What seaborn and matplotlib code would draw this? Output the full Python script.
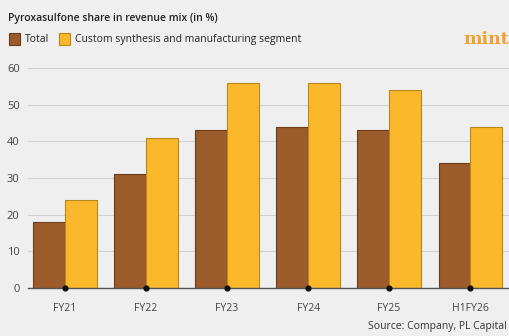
import matplotlib
matplotlib.use("Agg")
import matplotlib.pyplot as plt
import seaborn as sns
import pandas as pd

categories = ["FY21", "FY22", "FY23", "FY24", "FY25", "H1FY26"]
total = [18, 31, 43, 44, 43, 34]
custom = [24, 41, 56, 56, 54, 44]
series_names = ["Total", "Custom synthesis and manufacturing segment"]
yticks = [0, 10, 20, 30, 40, 50, 60]

df = pd.DataFrame({
    "year": categories * 2,
    "value": total + custom,
    "series": [series_names[0]] * len(categories) + [series_names[1]] * len(categories),
})

sns.set_theme(style="white")
plt.rcParams["font.family"] = ["Open Sans", "DejaVu Sans"]

bg = "#efefef"
brown = "#9b5b2b"
yellow = "#fbb82b"

fig = plt.figure(figsize=(5.09, 3.36), dpi=100, facecolor=bg)
ax = fig.add_axes([28 / 509, 1 - 288 / 336, 1 - 28 / 509, (288 - 68) / 336])
ax.set_facecolor(bg)

sns.barplot(data=df, x="year", y="value", hue="series", order=categories,
            hue_order=series_names, palette=[brown, yellow], width=0.78,
            saturation=1, ax=ax, legend=True)
for i, cont in enumerate(ax.containers):
    ec = "#6b3d1c" if i == 0 else "#b5871c"
    for p in cont.patches:
        p.set_edgecolor(ec)
        p.set_linewidth(0.8)
        p.set_zorder(3)

ax.set_xlim(-0.457, 5.48)
ax.set_ylim(0, 60)
ax.set_yticks(yticks)
ax.set_yticklabels([str(v) for v in yticks])
ax.grid(axis="y", color="#d2d2d2", linewidth=0.8, zorder=0)
ax.grid(axis="x", visible=False)
for s in ["top", "right", "left"]:
    ax.spines[s].set_visible(False)
ax.spines["bottom"].set_color("#555555")
ax.spines["bottom"].set_linewidth(1.0)
ax.spines["bottom"].set_zorder(4)
ax.tick_params(axis="y", length=0, pad=6, labelsize=8, labelcolor="#444444")
ax.tick_params(axis="x", length=0, pad=11, labelsize=7.5, labelcolor="#444444")
ax.set_xlabel("")
ax.set_ylabel("")

ax.scatter(range(len(categories)), [0] * len(categories), s=12, color="#111111",
           zorder=5, clip_on=False)

handles, labels = ax.get_legend_handles_labels()
for h, ec in zip(handles, ["#6b3d1c", "#b5871c"]):
    h.set_edgecolor(ec)
    h.set_linewidth(0.8)
ax.legend(handles, labels, loc="upper left", bbox_to_anchor=(5 / 509, 1 - 29 / 336),
          bbox_transform=fig.transFigure, ncol=2, frameon=False, fontsize=7.5,
          handlelength=1.0, handleheight=1.3, handletextpad=0.5, columnspacing=1.0,
          borderaxespad=0, labelcolor="#222222")

fig.text(8 / 509, 1 - 18 / 336, "Pyroxasulfone share in revenue mix (in %)",
         fontsize=7.5, fontweight="semibold", color="#222222", va="center", ha="left")
fig.text(509 / 509, 1 - 39 / 336, "mint", fontsize=12.5, fontweight="bold",
         color="#f0a030", family=["DejaVu Serif"], va="center", ha="right")
fig.text(507 / 509, 1 - 327 / 336, "Source: Company, PL Capital", fontsize=7.5,
         color="#333333", va="center", ha="right")

fig.savefig("out.png", dpi=100, facecolor=bg)
